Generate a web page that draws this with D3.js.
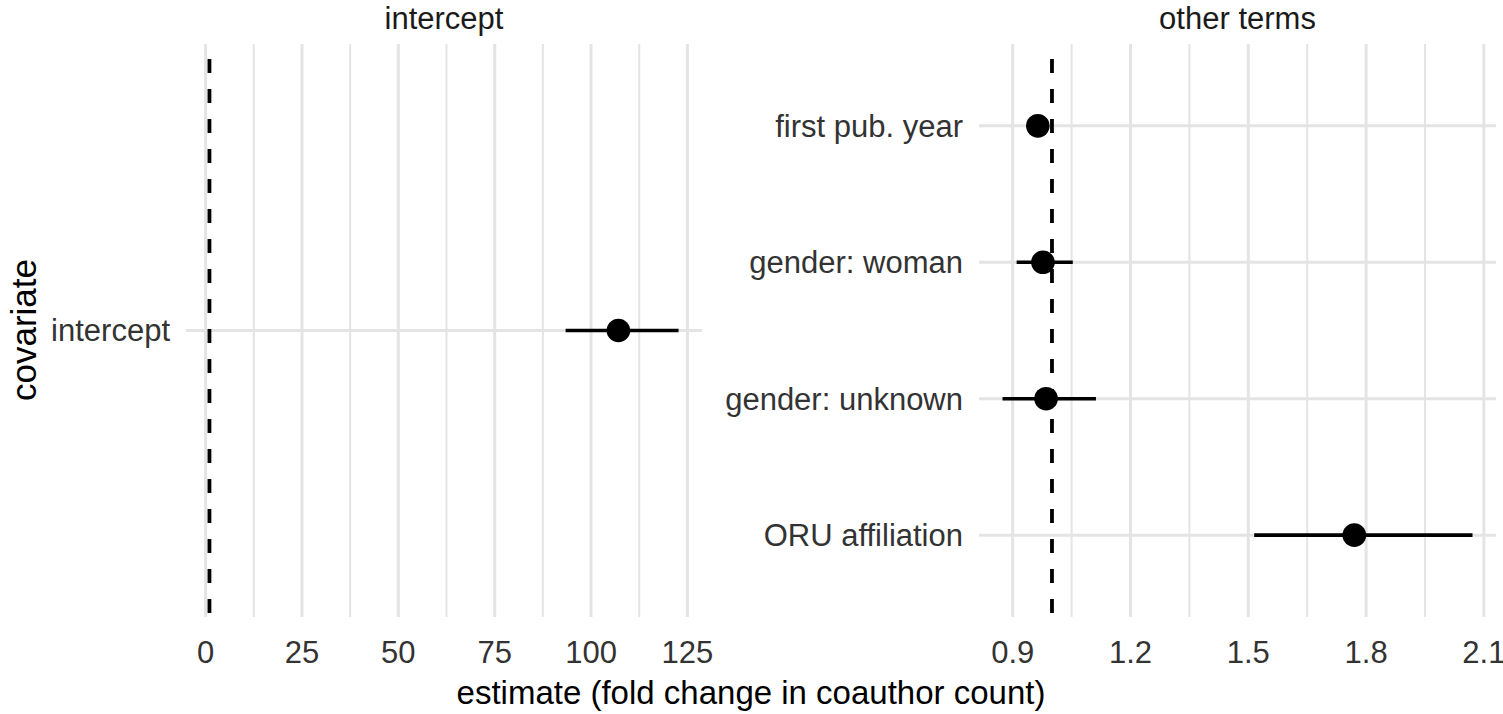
<!DOCTYPE html>
<html>
<head>
<meta charset="utf-8">
<script src="https://cdn.jsdelivr.net/npm/d3@7"></script>
<style>
  html, body { margin: 0; padding: 0; background: #ffffff; }
  svg { display: block; font-family: "Liberation Sans", Arial, sans-serif; }
</style>
</head>
<body>
<svg id="chart" width="1503" height="714"></svg>
<script>
// ---- data ----
const panelTitles = ["intercept", "other terms"];
const interceptTerms = ["intercept"];
const interceptEstimate = [107.1];
const interceptLower = [93.4];
const interceptUpper = [122.7];

const otherTerms = ["first pub. year", "gender: woman", "gender: unknown", "ORU affiliation"];
const otherEstimate = [0.964, 0.977, 0.985, 1.770];
const otherLower = [0.952, 0.910, 0.874, 1.515];
const otherUpper = [0.976, 1.053, 1.112, 2.071];

const interceptTicks = [0, 25, 50, 75, 100, 125];
const otherTicks = [0.9, 1.2, 1.5, 1.8, 2.1];
const referenceValue = [1];

const xTitle = "estimate (fold change in coauthor count)";
const yTitle = "covariate";

// ---- layout ----
const svg = d3.select("#chart");
const panelTop = 44, panelBottom = 617;
const panels = [
  { title: panelTitles[0], left: 186, right: 702, terms: interceptTerms,
    est: interceptEstimate, lo: interceptLower, hi: interceptUpper, ticks: interceptTicks, dec: 0 },
  { title: panelTitles[1], left: 979, right: 1496, terms: otherTerms,
    est: otherEstimate, lo: otherLower, hi: otherUpper, ticks: otherTicks, dec: 1 }
];

const gridColor = "#e4e4e4";
const tickFont = 31;

panels.forEach(p => {
  // ggplot-like 5% expansion on data incl. reference line
  const ext = d3.extent([...p.lo, ...p.hi, ...referenceValue]);
  const pad = (ext[1] - ext[0]) * 0.05;
  const x = d3.scaleLinear().domain([ext[0] - pad, ext[1] + pad]).range([p.left, p.right]);
  const y = d3.scalePoint().domain(p.terms).range([panelTop, panelBottom]).padding(0.6);

  const g = svg.append("g");

  // minor gridlines
  const step = p.ticks[1] - p.ticks[0];
  const minor = [];
  for (let i = 0; i < p.ticks.length - 1; i++) minor.push(p.ticks[i] + step / 2);
  [p.ticks[0] - step / 2, p.ticks[p.ticks.length - 1] + step / 2].forEach(v => {
    if (v >= x.domain()[0] && v <= x.domain()[1]) minor.push(v);
  });
  g.selectAll(".minor").data(minor).join("line")
    .attr("x1", d => x(d)).attr("x2", d => x(d))
    .attr("y1", panelTop).attr("y2", panelBottom)
    .attr("stroke", gridColor).attr("stroke-width", 2);

  // major vertical gridlines
  g.selectAll(".major").data(p.ticks).join("line")
    .attr("x1", d => x(d)).attr("x2", d => x(d))
    .attr("y1", panelTop).attr("y2", panelBottom)
    .attr("stroke", gridColor).attr("stroke-width", 3);

  // horizontal gridlines
  g.selectAll(".hgrid").data(p.terms).join("line")
    .attr("x1", p.left).attr("x2", p.right)
    .attr("y1", d => y(d)).attr("y2", d => y(d))
    .attr("stroke", gridColor).attr("stroke-width", 3);

  // reference dashed line
  g.selectAll(".ref").data(referenceValue).join("line")
    .attr("x1", d => x(d)).attr("x2", d => x(d))
    .attr("y1", panelTop).attr("y2", panelBottom)
    .attr("stroke", "#000").attr("stroke-width", 3.8)
    .attr("stroke-dasharray", "14 16").attr("stroke-dashoffset", 15);

  // error bars
  g.selectAll(".err").data(p.terms).join("line")
    .attr("x1", (d, i) => x(p.lo[i])).attr("x2", (d, i) => x(p.hi[i]))
    .attr("y1", d => y(d)).attr("y2", d => y(d))
    .attr("stroke", "#000").attr("stroke-width", 3.6);

  // points
  g.selectAll(".pt").data(p.terms).join("circle")
    .attr("cx", (d, i) => x(p.est[i])).attr("cy", d => y(d))
    .attr("r", 11.8).attr("fill", "#000");

  // x tick labels
  g.selectAll(".xt").data(p.ticks).join("text")
    .attr("x", d => x(d)).attr("y", 663)
    .attr("text-anchor", "middle")
    .attr("font-size", tickFont).attr("fill", "#333")
    .text(d => d.toFixed(p.dec));

  // y tick labels
  g.selectAll(".yt").data(p.terms).join("text")
    .attr("x", p.left - 16).attr("y", d => y(d))
    .attr("dy", "0.35em")
    .attr("text-anchor", "end")
    .attr("font-size", tickFont).attr("fill", "#333")
    .text(d => d);

  // strip title
  g.append("text")
    .attr("x", (p.left + p.right) / 2).attr("y", 29)
    .attr("text-anchor", "middle")
    .attr("font-size", tickFont).attr("fill", "#1a1a1a")
    .text(p.title);
});

// axis titles
svg.append("text")
  .attr("x", 751).attr("y", 704)
  .attr("text-anchor", "middle")
  .attr("font-size", 33).attr("fill", "#000")
  .text(xTitle);

svg.append("text")
  .attr("transform", "translate(36,330) rotate(-90)")
  .attr("text-anchor", "middle")
  .attr("font-size", 35).attr("fill", "#000")
  .text(yTitle);
</script>
</body>
</html>
